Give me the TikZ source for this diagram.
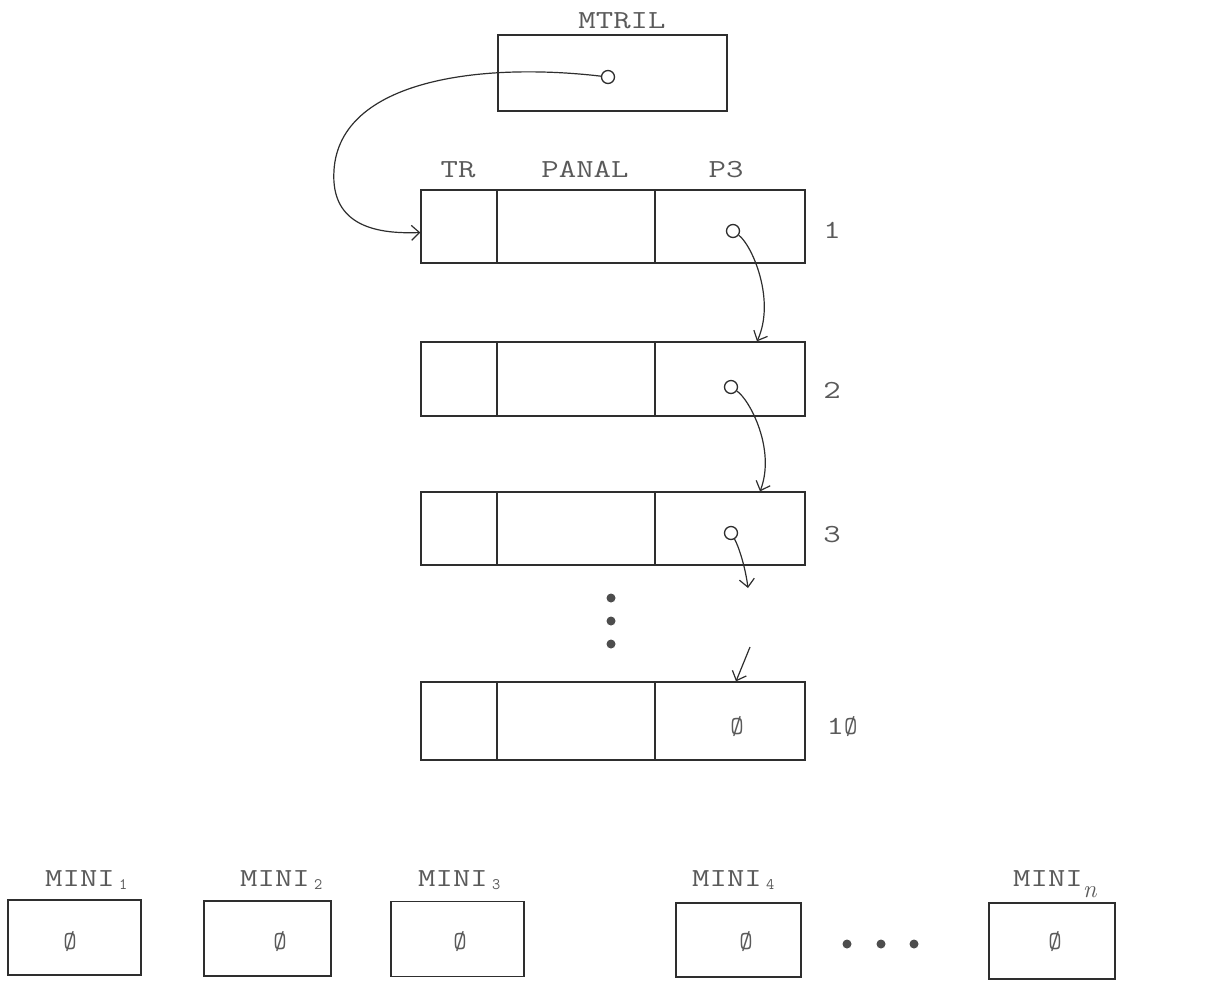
\documentclass[tikz,border=0pt]{standalone}
\usepackage{graphicx}
\usetikzlibrary{arrows.meta,calc}
\definecolor{ink}{HTML}{2E2E2E}
\definecolor{txt}{HTML}{5A5A5A}
\begin{document}
\begin{tikzpicture}[x=1pt,y=-1pt,
  cell/.style={draw=ink,line width=1.3pt,inner sep=0pt},
  ptr/.style={circle,draw=ink,line width=1.3pt,minimum size=13pt,inner sep=0pt},
  arr/.style={draw=ink,line width=1.2pt,-{Straight Barb[length=8pt,width=15pt]}},
  lbl/.style={text=txt,font=\ttfamily\fontsize{26}{26}\selectfont,inner sep=0pt},
  dot/.style={circle,fill=ink!85,minimum size=9pt,inner sep=0pt}]
\useasboundingbox (0,0) rectangle (1224,986);
\newcommand{\tw}[1]{\scalebox{1.3}[1]{#1}}
\newcommand{\sub}[1]{\,\raisebox{-3pt}{\fontsize{16}{16}\selectfont #1}}

% MTRIL
\node[lbl,anchor=base] (tmtril) at (622,28) {\tw{MTRIL}};
\node[cell,minimum width=229pt,minimum height=76pt] (mtril) at (612.5,73) {};
\node[ptr] (pm) at (608,77) {};

% column headings
\node[lbl,anchor=base] (htr) at (458,177) {\tw{TR}};
\node[lbl,anchor=base] (hpanal) at (585,177) {\tw{PANAL}};
\node[lbl,anchor=base] (hp3) at (726,177) {\tw{P3}};

% records
\foreach \n/\y/\h in {1/226.5/73, 2/379/74, 3/528.5/73, 10/721/78}{
  \node[cell,minimum width=76pt,minimum height=\h pt] (a\n) at (459,\y) {};
  \node[cell,minimum width=158pt,minimum height=\h pt] (b\n) at (576,\y) {};
  \node[cell,minimum width=150pt,minimum height=\h pt] (c\n) at (730,\y) {};
}
\node[lbl] (n1) at (832,230) {\tw{1}};
\node[lbl] (n2) at (832,390) {\tw{2}};
\node[lbl] (n3) at (832,535) {\tw{3}};
\node[lbl] (n10) at (842,727) {\tw{1}Ø};
\node[lbl] (z10) at (737,727) {Ø};

\node[ptr] (p1) at (733,231) {};
\node[ptr] (p2) at (731,387) {};
\node[ptr] (p3) at (731,533) {};

% vertical dots
\node[dot] (vd1) at (611,598) {};
\node[dot] (vd2) at (611,621) {};
\node[dot] (vd3) at (611,644) {};

% connectors
\draw[arr] (pm) .. controls (480,62) and (340,80) .. (334,170)
  .. controls (330,228) and (380,234) .. ([yshift=-6pt]a1.west);
\draw[arr] (p1) .. controls (752,245) and (776,300) .. ([xshift=27pt]c2.north);
\draw[arr] (p2) .. controls (750,400) and (776,450) .. ([xshift=30pt]c3.north);
\coordinate (free3) at (748,588);
\draw[arr] (p3) .. controls (738,545) and (745,565) .. (free3);
\coordinate (free10) at (750,647);
\draw[arr] (free10) -- ([xshift=6pt]c10.north);

% MINI boxes
\node[cell,minimum width=133pt,minimum height=75pt] (m1) at (74.5,937.5) {};
\node[cell,minimum width=127pt,minimum height=75pt] (m2) at (267.5,938.5) {};
\node[cell,minimum width=133pt,minimum height=75pt] (m3) at (457.5,939) {};
\node[cell,minimum width=125pt,minimum height=74pt] (m4) at (738.5,940) {};
\node[cell,minimum width=126pt,minimum height=76pt] (mn) at (1052,941) {};

\node[lbl,anchor=base west] (tm1) at (45,886) {\tw{MINI}\sub{1}};
\node[lbl,anchor=base west] (tm2) at (240,886) {\tw{MINI}\sub{2}};
\node[lbl,anchor=base west] (tm3) at (418,886) {\tw{MINI}\sub{3}};
\node[lbl,anchor=base west] (tm4) at (692,886) {\tw{MINI}\sub{4}};
\node[lbl,anchor=base west] (tmn) at (1013,886) {\tw{MINI}\raisebox{-11pt}{$\mathit{n}$}};

\node[lbl] (z1) at (70,942) {Ø};
\node[lbl] (z2) at (280,942) {Ø};
\node[lbl] (z3) at (460,942) {Ø};
\node[lbl] (z4) at (746,942) {Ø};
\node[lbl] (zn) at (1055,942) {Ø};

\node[dot] (hd1) at (847,944) {};
\node[dot] (hd2) at (881,944) {};
\node[dot] (hd3) at (914,944) {};
\end{tikzpicture}
\end{document}
